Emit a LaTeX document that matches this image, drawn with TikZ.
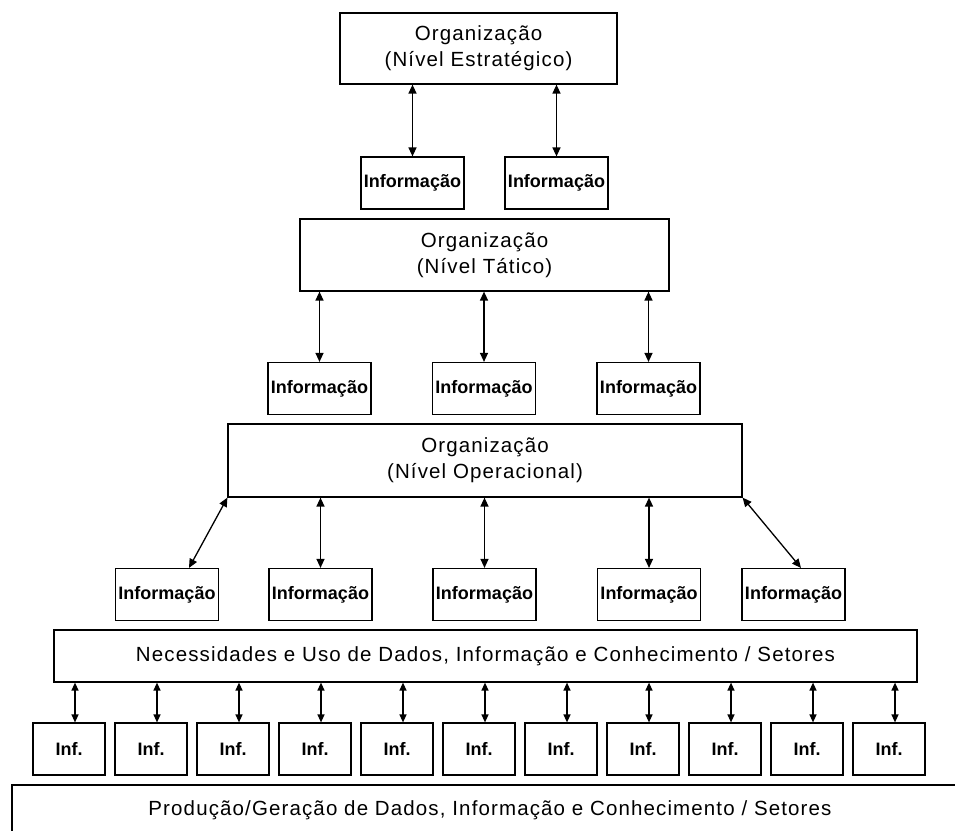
\documentclass[tikz,border=0pt]{standalone}
\usepackage{fontspec}
\setmainfont{Liberation Sans}
\newfontfamily\orgfont[LetterSpace=5.5]{Liberation Sans}
\usetikzlibrary{arrows.meta,calc}
\begin{document}
\begin{tikzpicture}[x=1pt,y=-1pt,
  orgbox/.style={draw=black,line width=1.2pt,rectangle,inner sep=0pt,align=center,
    font=\orgfont\fontsize{20.5}{26}\selectfont},
  infobox/.style={draw=black,line width=1.2pt,rectangle,inner sep=0pt,
    minimum width=103pt,minimum height=52pt,font=\fontsize{18}{20}\selectfont\bfseries},
  smallbox/.style={draw=black,line width=1.2pt,rectangle,inner sep=0pt,
    minimum width=72pt,minimum height=52pt,font=\fontsize{18}{20}\selectfont\bfseries},
  arr/.style={line width=1.3pt,{Triangle[width=8pt,length=9pt]}-{Triangle[width=8pt,length=9pt]}},
  sarr/.style={line width=1.3pt,{Triangle[width=7pt,length=8pt]}-{Triangle[width=7pt,length=8pt]}}
]
\useasboundingbox (0,0) rectangle (955,830);
\fill[white] (0,0) rectangle (955,830);

% Level 1
\node[orgbox,minimum width=277pt,minimum height=71pt] (L1) at (478.5,48.5) {Organização\\(Nível Estratégico)};
\node[infobox] (I1a) at (412.5,183) {Informação};
\node[infobox] (I1b) at (556.5,183) {Informação};
\draw[arr] (I1a.north |- L1.south) -- (I1a.north);
\draw[arr] (I1b.north |- L1.south) -- (I1b.north);

% Level 2
\node[orgbox,minimum width=369pt,minimum height=72pt] (L2) at (484.5,255) {Organização\\(Nível Tático)};
\node[infobox] (I2a) at (319.5,388.5) {Informação};
\node[infobox] (I2b) at (484,388.5) {Informação};
\node[infobox] (I2c) at (648.5,388.5) {Informação};
\draw[arr] (I2a.north |- L2.south) -- (I2a.north);
\draw[arr] (I2b.north |- L2.south) -- (I2b.north);
\draw[arr] (I2c.north |- L2.south) -- (I2c.north);

% Level 3
\node[orgbox,minimum width=514pt,minimum height=73pt] (L3) at (485,460.5) {Organização\\(Nível Operacional)};
\node[infobox] (I3a) at (167,594.5) {Informação};
\node[infobox] (I3b) at (320.5,594.5) {Informação};
\node[infobox] (I3c) at (484.5,594.5) {Informação};
\node[infobox] (I3d) at (649,594.5) {Informação};
\node[infobox] (I3e) at (793.5,594.5) {Informação};
\coordinate (I3aT) at ($(I3a.north)+(22,0)$);
\coordinate (I3eT) at ($(I3e.north)+(7.5,0)$);
\draw[arr] (L3.south west) -- (I3aT);
\draw[arr] (I3b.north |- L3.south) -- (I3b.north);
\draw[arr] (I3c.north |- L3.south) -- (I3c.north);
\draw[arr] (I3d.north |- L3.south) -- (I3d.north);
\draw[arr] (L3.south east) -- (I3eT);

% Necessidades
\node[orgbox,minimum width=863pt,minimum height=52pt] (N) at (485.5,656) {Necessidades e Uso de Dados, Informação e Conhecimento / Setores};

% Inf. boxes
\foreach \i in {0,...,10} {
  \node[smallbox] (F\i) at (69+82*\i,749) {Inf.};
  \coordinate (FT\i) at ($(F\i.north)+(6,0)$);
  \draw[sarr] (FT\i |- N.south) -- (FT\i);
}

% Bottom box (cut by the picture edge)
\begin{scope}
\clip (0,0) rectangle (955,830);
\draw[line width=1.2pt] (12,785) rectangle (975,850);
\end{scope}
\node[font=\orgfont\fontsize{20.5}{26}\selectfont] (P) at (490,810) {Produção/Geração de Dados, Informação e Conhecimento / Setores};
\end{tikzpicture}
\end{document}
